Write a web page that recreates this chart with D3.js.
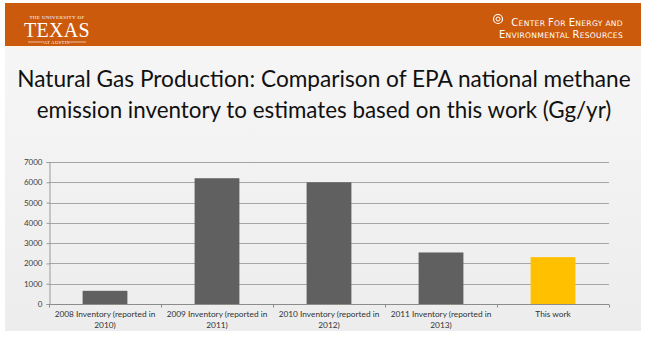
<!DOCTYPE html>
<html>
<head>
<meta charset="utf-8">
<script src="https://cdn.jsdelivr.net/npm/d3@7"></script>
<style>
  html, body { margin: 0; padding: 0; background: #fff; }
  svg { display: block; }
</style>
</head>
<body>
<div id="chart"></div>
<script>
// values
const categories = [
  ["2008 Inventory (reported in", "2010)"],
  ["2009 Inventory (reported in", "2011)"],
  ["2010 Inventory (reported in", "2012)"],
  ["2011 Inventory (reported in", "2013)"],
  ["This work"]
];
const emissions = [650, 6200, 6000, 2540, 2310];
const barColors = ["#606060", "#606060", "#606060", "#606060", "#ffc000"];
const yTicks = [0, 1000, 2000, 3000, 4000, 5000, 6000, 7000];
const titleLines = [
  "Natural Gas Production: Comparison of EPA national methane",
  "emission inventory to estimates based on this work (Gg/yr)"
];

const W = 646, H = 337;
const svg = d3.select("#chart").append("svg")
  .attr("width", W)
  .attr("height", H);

// slide background
const defs = svg.append("defs");
const grad = defs.append("linearGradient").attr("id", "bg")
  .attr("x1", 0).attr("y1", 0).attr("x2", 0).attr("y2", 1);
grad.append("stop").attr("offset", "0%").attr("stop-color", "#f7f7f7");
grad.append("stop").attr("offset", "100%").attr("stop-color", "#ededed");

svg.append("rect")
  .attr("x", 5).attr("y", 3)
  .attr("width", 636).attr("height", 328)
  .attr("fill", "url(#bg)");

// header band
svg.append("rect")
  .attr("x", 5).attr("y", 3)
  .attr("width", 636).attr("height", 43)
  .attr("fill", "#cc5a0c");
svg.append("rect")
  .attr("x", 5).attr("y", 46)
  .attr("width", 636).attr("height", 3)
  .attr("fill", "#faf3ee");

// UT logo
const logo = svg.append("g").attr("fill", "#fff");
logo.append("text")
  .attr("x", 57).attr("y", 19)
  .attr("text-anchor", "middle")
  .attr("font-family", "Liberation Serif")
  .attr("font-size", 5)
  .attr("letter-spacing", 0.4)
  .text("THE UNIVERSITY OF");
logo.append("text")
  .attr("x", 57).attr("y", 37)
  .attr("text-anchor", "middle")
  .attr("font-family", "Liberation Serif")
  .attr("font-size", 20)
  .attr("letter-spacing", 0.3)
  .text("TEXAS");
logo.append("text")
  .attr("x", 57).attr("y", 43.5)
  .attr("text-anchor", "middle")
  .attr("font-family", "Liberation Serif")
  .attr("font-size", 4.5)
  .attr("letter-spacing", 0.4)
  .text("AT AUSTIN");
logo.append("line").attr("x1", 28).attr("x2", 44).attr("y1", 42).attr("y2", 42)
  .attr("stroke", "#fff").attr("stroke-width", 0.6);
logo.append("line").attr("x1", 70).attr("x2", 86).attr("y1", 42).attr("y2", 42)
  .attr("stroke", "#fff").attr("stroke-width", 0.6);

// CEER logo
const ceer = svg.append("g").attr("fill", "#fff");
ceer.append("circle").attr("cx", 498).attr("cy", 19).attr("r", 4.5)
  .attr("fill", "none").attr("stroke", "#fff").attr("stroke-width", 1.2);
ceer.append("circle").attr("cx", 498).attr("cy", 19).attr("r", 2)
  .attr("fill", "none").attr("stroke", "#fff").attr("stroke-width", 1);

function smallCaps(sel, words) {
  words.forEach((w, i) => {
    const big = w === "AND" ? "" : w[0];
    const rest = w === "AND" ? w : w.slice(1);
    if (i) sel.append("tspan").attr("font-size", 7.6).text(" ");
    if (big) sel.append("tspan").attr("font-size", 10).text(big);
    sel.append("tspan").attr("font-size", 7.6).text(rest);
  });
}
const c1 = ceer.append("text")
  .attr("x", 623).attr("y", 26)
  .attr("text-anchor", "end")
  .attr("font-family", "DejaVu Sans")
  .attr("letter-spacing", 0.3);
smallCaps(c1, ["CENTER", "FOR", "ENERGY", "AND"]);
const c2 = ceer.append("text")
  .attr("x", 623).attr("y", 38)
  .attr("text-anchor", "end")
  .attr("font-family", "DejaVu Sans")
  .attr("letter-spacing", 0.3);
smallCaps(c2, ["ENVIRONMENTAL", "RESOURCES"]);

// title
const title = svg.append("g")
  .attr("font-family", "Lato")
  .attr("fill", "#111");
titleLines.forEach((t, i) => {
  const tx = title.append("text")
    .attr("x", 324).attr("y", 87 + i * 31)
    .attr("text-anchor", "middle")
    .attr("font-size", 24)
    .text(t);
  // fit to the width seen on the slide
  const target = i === 0 ? 614 : 575;
  const len = tx.node().getComputedTextLength();
  tx.attr("font-size", 24 * target / len);
});

// chart
const x = d3.scaleBand()
  .domain(d3.range(categories.length))
  .range([49, 609]);
const y = d3.scaleLinear()
  .domain([0, 7000])
  .range([304, 162]);

const g = svg.append("g");

// gridlines
g.selectAll(".grid")
  .data(yTicks.filter(d => d > 0))
  .enter().append("line")
  .attr("class", "grid")
  .attr("x1", 49).attr("x2", 609)
  .attr("y1", d => Math.round(y(d)) + 0.5)
  .attr("y2", d => Math.round(y(d)) + 0.5)
  .attr("stroke", "#a6a6a6")
  .attr("stroke-width", 1);

// bars
const barW = x.bandwidth() * 0.4;
g.selectAll(".bar")
  .data(emissions)
  .enter().append("rect")
  .attr("class", "bar")
  .attr("x", (d, i) => x(i) + (x.bandwidth() - barW) / 2)
  .attr("y", d => y(d))
  .attr("width", barW)
  .attr("height", d => y(0) - y(d))
  .attr("fill", (d, i) => barColors[i]);

// y axis
const yAxis = g.append("g")
  .attr("transform", "translate(49.5,0)")
  .call(d3.axisLeft(y).tickValues(yTicks).tickFormat(d3.format("d")).tickSize(3).tickPadding(4));
yAxis.select(".domain").attr("stroke", "#9a9a9a");
yAxis.selectAll(".tick line").attr("stroke", "#9a9a9a");
yAxis.selectAll(".tick text")
  .attr("font-family", "Lato")
  .attr("font-size", 8)
  .attr("fill", "#404040");

// x axis
const xAxis = g.append("g")
  .attr("transform", `translate(0,${Math.round(y(0)) + 0.5})`);
xAxis.append("line")
  .attr("x1", 49).attr("x2", 609)
  .attr("stroke", "#8c8c8c");
xAxis.selectAll(".xtick")
  .data(d3.range(categories.length + 1))
  .enter().append("line")
  .attr("class", "xtick")
  .attr("x1", i => Math.round(i < categories.length ? x(i) : x.range()[1]) + 0.5)
  .attr("x2", i => Math.round(i < categories.length ? x(i) : x.range()[1]) + 0.5)
  .attr("y1", 0).attr("y2", 3)
  .attr("stroke", "#8c8c8c");

const labels = xAxis.selectAll(".xlabel")
  .data(categories)
  .enter().append("text")
  .attr("class", "xlabel")
  .attr("text-anchor", "middle")
  .attr("font-family", "Lato")
  .attr("font-size", 8.3)
  .attr("fill", "#333");
labels.selectAll("tspan")
  .data((d, i) => d.map(s => ({ s, i })))
  .enter().append("tspan")
  .attr("x", d => x(d.i) + x.bandwidth() / 2)
  .attr("y", (d, j) => 12 + j * 11)
  .text(d => d.s);
</script>
</body>
</html>
